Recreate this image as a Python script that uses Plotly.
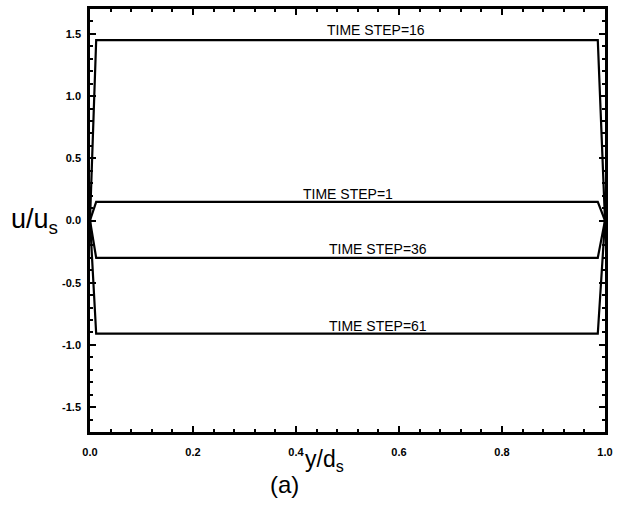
import plotly.graph_objects as go

# Velocity profiles u/u_s across the channel y/d_s for several time steps
y_pos = [0.0, 0.012, 0.986, 1.0]
steps = ["TIME STEP=16", "TIME STEP=1", "TIME STEP=36", "TIME STEP=61"]
core_u = [1.45, 0.15, -0.30, -0.91]
label_x = [0.555, 0.50, 0.56, 0.56]
label_y = [1.53, 0.21, -0.23, -0.85]

x_tickvals = [0.0, 0.2, 0.4, 0.6, 0.8, 1.0]
x_ticktext = ["0.0", "0.2", "0.4", "0.6", "0.8", "1.0"]
y_tickvals = [-1.5, -1.0, -0.5, 0.0, 0.5, 1.0, 1.5]
y_ticktext = ["-1.5", "-1.0", "-0.5", "0.0", "0.5", "1.0", "1.5"]

fig = go.Figure()
for name, u in zip(steps, core_u):
    fig.add_trace(go.Scatter(
        x=y_pos, y=[0.0, u, u, 0.0], mode="lines", name=name,
        line=dict(color="black", width=2.2), showlegend=False))

for name, lx, ly in zip(steps, label_x, label_y):
    fig.add_annotation(x=lx, y=ly, text=name, showarrow=False,
                       font=dict(family="Arial", size=14, color="black"),
                       xanchor="center", yanchor="middle")

axis_common = dict(showline=True, linecolor="black", linewidth=2.5, mirror="ticks",
                   ticks="inside", ticklen=6, tickwidth=1.8, tickcolor="black",
                   showgrid=False, zeroline=False,
                   tickfont=dict(family="Arial", size=11, color="black", weight="bold"))

fig.update_xaxes(range=[0, 1], tickvals=x_tickvals, ticktext=x_ticktext,
                 ticklabelstandoff=8,
                 minor=dict(ticks="inside", ticklen=3, tickvals=[i * 0.04 for i in range(26)],
                            tickcolor="black", tickwidth=1.5),
                 **axis_common)
fig.update_yaxes(range=[-1.7, 1.7], tickvals=y_tickvals, ticktext=y_ticktext,
                 ticklabelstandoff=4,
                 minor=dict(ticks="inside", ticklen=3, tickvals=[-1.7 + i * 0.1 for i in range(35)],
                            tickcolor="black", tickwidth=1.5),
                 **axis_common)

fig.add_annotation(x=-0.108, y=0.5, xref="paper", yref="paper", text="u/u<sub>s</sub>",
                   showarrow=False, font=dict(family="Arial", size=27, color="black"),
                   xanchor="center", yanchor="middle")
fig.add_annotation(x=0.456, y=-0.028, xref="paper", yref="paper", text="y/d<sub>s</sub>",
                   showarrow=False, font=dict(family="Arial", size=23, color="black"),
                   xanchor="center", yanchor="top")
fig.add_annotation(x=0.378, y=-0.088, xref="paper", yref="paper", text="(a)",
                   showarrow=False, font=dict(family="Arial", size=24, color="black"),
                   xanchor="center", yanchor="top")

fig.update_layout(width=623, height=507, margin=dict(l=90, r=18, t=6, b=75),
                  plot_bgcolor="white", paper_bgcolor="white")

fig.write_html("out.html")
